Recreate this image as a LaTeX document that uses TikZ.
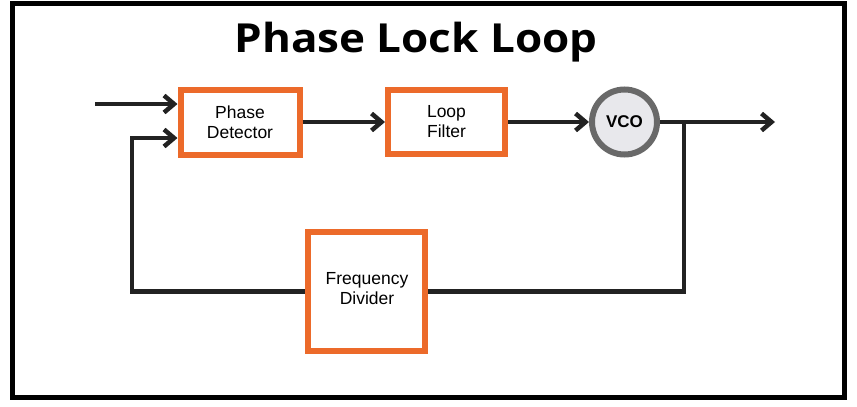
\documentclass[tikz,border=0pt]{standalone}
\usepackage{fontspec}
\setmainfont{Liberation Sans}
\newfontfamily\titlefont{Open Sans}
\usetikzlibrary{arrows.meta}
\definecolor{plorange}{HTML}{EC6A2A}
\definecolor{plline}{HTML}{222222}
\definecolor{plring}{HTML}{696969}
\definecolor{plfill}{HTML}{E8E8EC}
\begin{document}
\begin{tikzpicture}[x=1pt,y=-1pt,
  blockbox/.style={draw=plorange,line width=6pt,fill=white,rectangle,inner sep=0pt,
    align=center,font=\fontsize{17.5}{20}\selectfont},
  wire/.style={draw=plline,line width=4.5pt,line join=miter},
  arr/.style={wire,-{Straight Barb[length=10pt,width=17pt]}}]
\useasboundingbox (0,0) rectangle (857,407);
\fill[white] (0,0) rectangle (857,407);
\draw[line width=5pt,black] (12.5,3.5) rectangle (844.5,397.5);
\node[font=\titlefont\bfseries\fontsize{40}{48}\selectfont,anchor=base] (title) at (416,52) {\scalebox{1.1}[1]{Phase Lock Loop}};
\node[blockbox,minimum width=119pt,minimum height=65pt] (pd) at (240,122) {Phase\\Detector};
\node[blockbox,minimum width=117pt,minimum height=64pt] (lf) at (446.5,122) {Loop\\Filter};
\node[blockbox,minimum width=117pt,minimum height=119pt] (fd) at (366,291.5) {};
\node[align=center,inner sep=0pt,font=\fontsize{17.5}{20}\selectfont] (fdtext) at (367,288.5) {Frequency\\Divider};
\node[circle,draw=plring,line width=6pt,fill=plfill,minimum size=65pt,inner sep=0pt,
  font=\bfseries\fontsize{17}{20}\selectfont] (vco) at (624.5,122) {VCO};
\coordinate (in) at (95,104);
\coordinate (fbl) at (132,138);
\coordinate (out) at (775,122);
\coordinate (br) at (684,122);
\draw[arr] (in) -- (pd.west |- in);
\draw[arr] (fd.west) -| (fbl) -- (pd.west |- fbl);
\draw[arr] (pd.east) -- (lf.west);
\draw[arr] (lf.east) -- (vco.west);
\draw[arr] (vco.east) -- (out);
\draw[wire] (br) |- (fd.east);
\end{tikzpicture}
\end{document}
